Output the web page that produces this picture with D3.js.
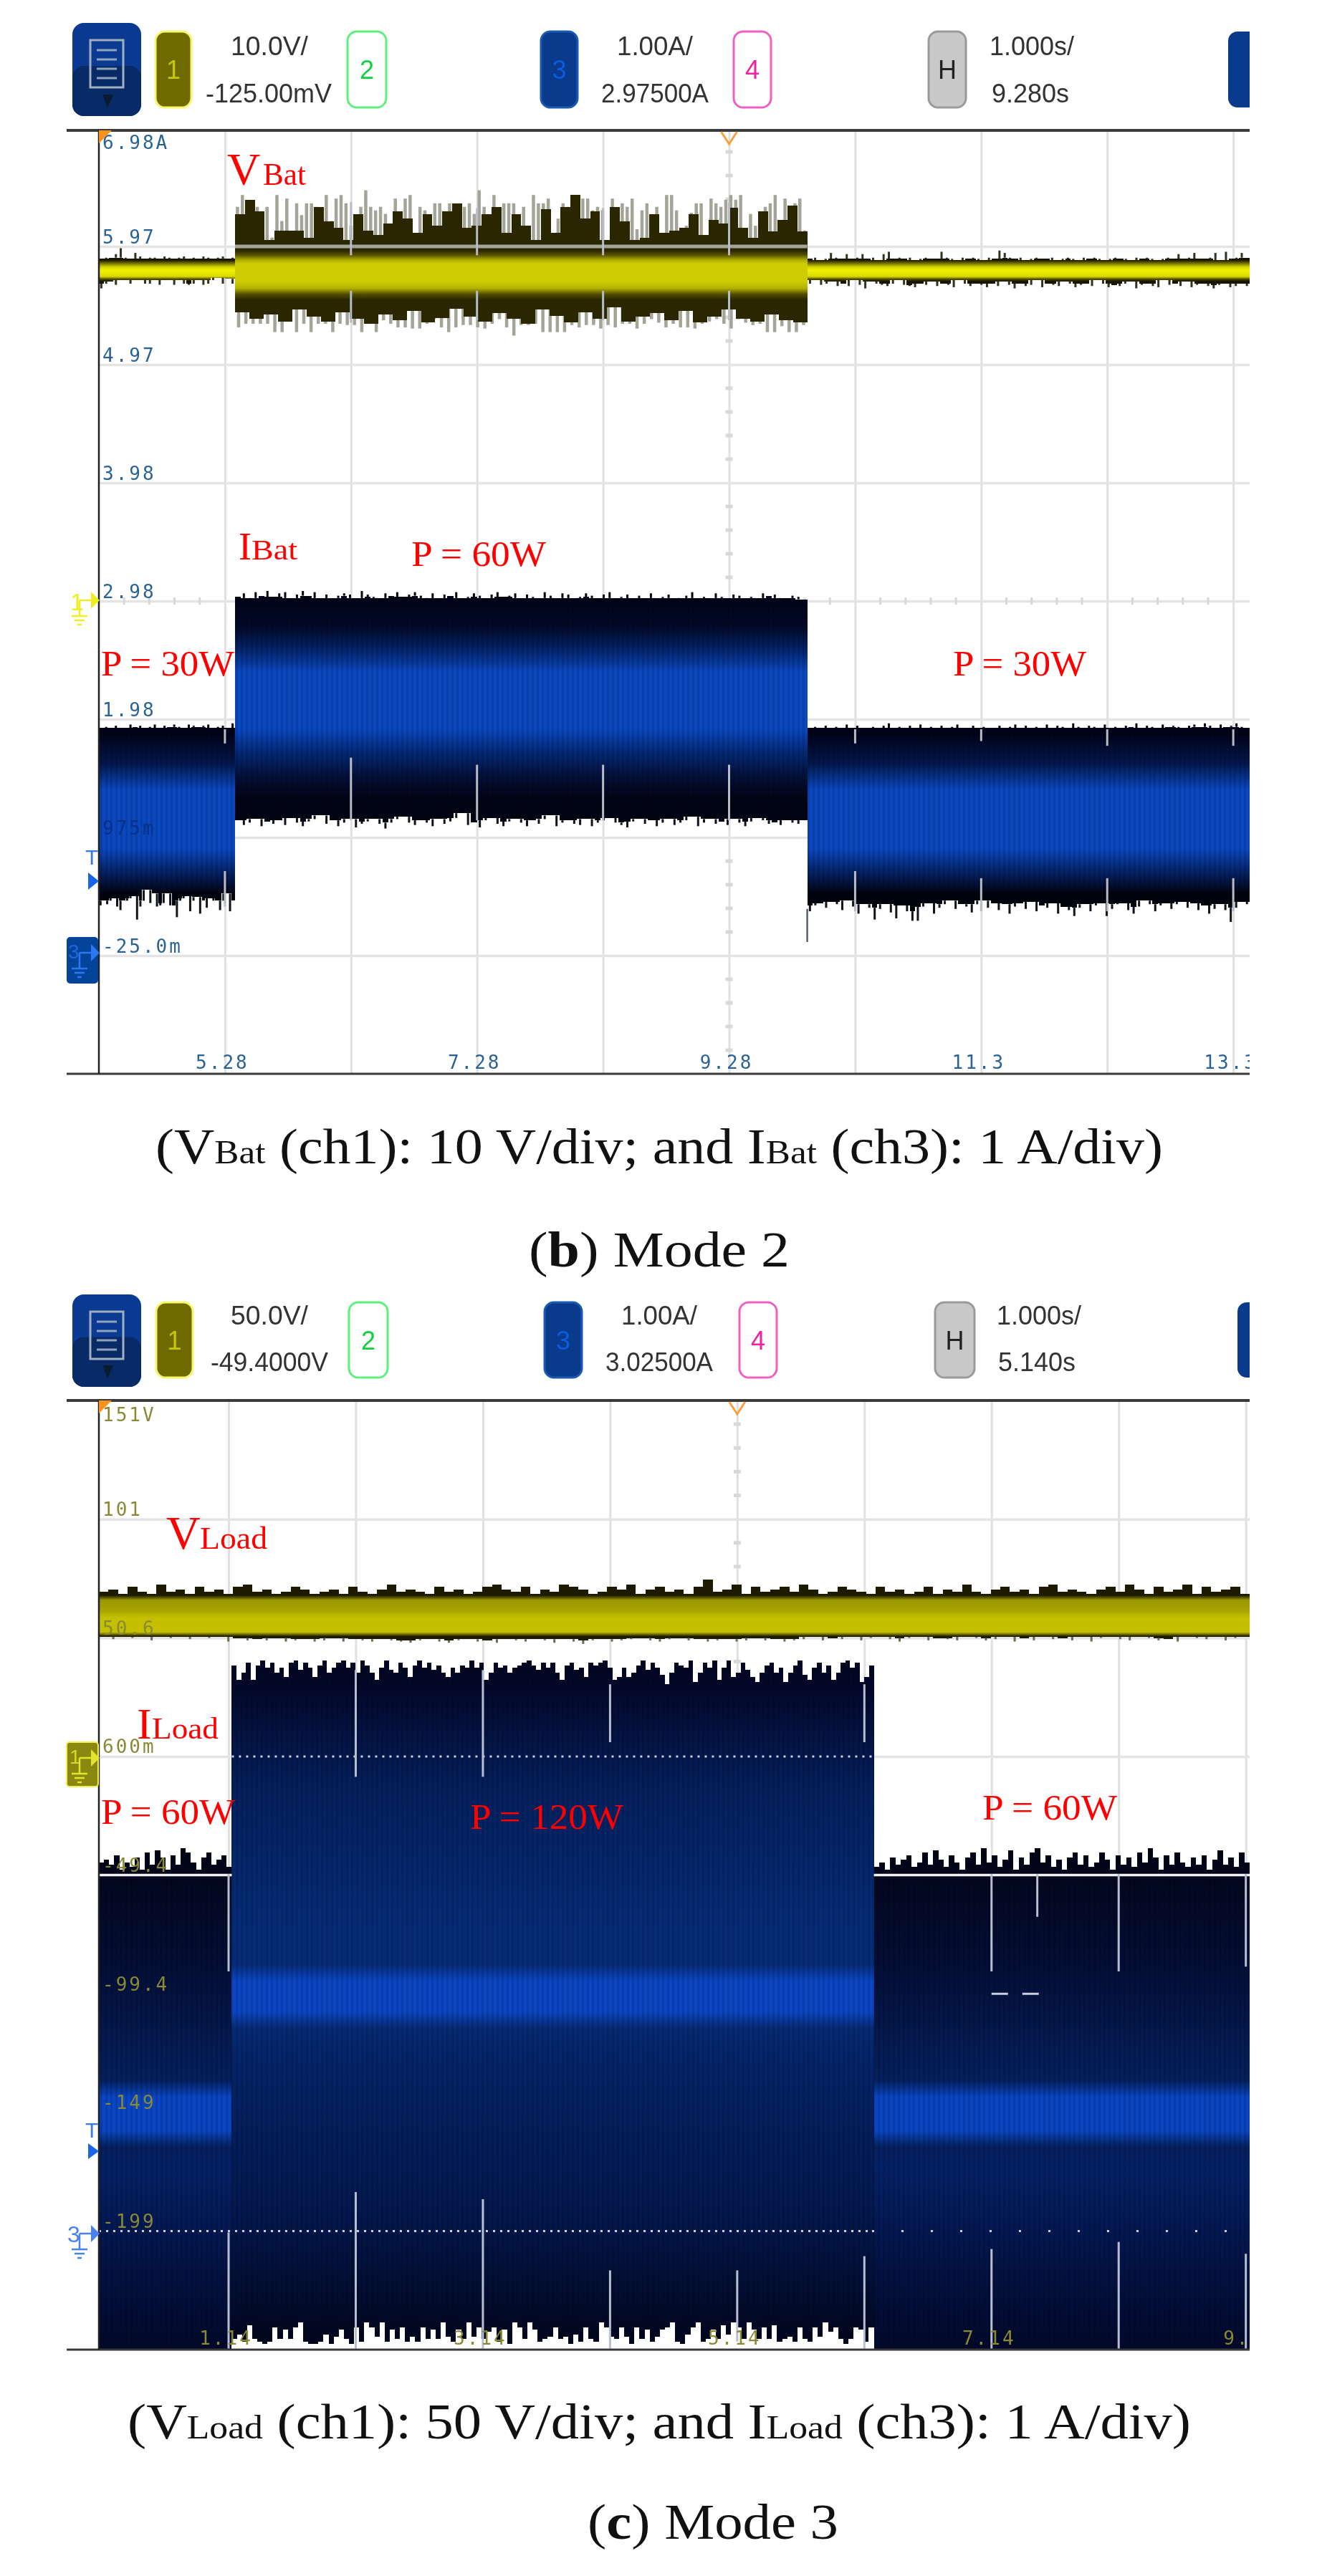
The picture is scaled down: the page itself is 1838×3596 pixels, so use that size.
<!DOCTYPE html>
<html>
<head>
<meta charset="utf-8">
<style>
  html, body { margin: 0; background: #fff; }
  svg { display: block; filter: blur(0.7px); }
</style>
</head>
<body>
<svg id="scope" width="1838" height="3596"></svg>
<script src="https://cdn.jsdelivr.net/npm/d3@7"></script>
<script>
// ---- data ----
// mode 2: time in s, voltage/current in the scope's own axis units
var batTimeTicks = [5.28, 7.28, 9.28, 11.28, 13.28];
var batTimeLabels = ["5.28", "7.28", "9.28", "11.3", "13.3"];
var batLevelTicks = [6.975, 5.975, 4.975, 3.975, 2.975, 1.975, 0.975, -0.025];
var batLevelLabels = ["6.98A", "5.97", "4.97", "3.98", "2.98", "1.98", "975m", "-25.0m"];
var batSteps = [5.36, 9.9];

var vBatHighPeakTop = [6.31,6.41,6.09,6.03,6.31,6.21,6.31,6.05,6.41,6.19,6.38,5.99,6.34,6.24,6.34,6.34,6.31,6.09,6.41,6.19,6.38,6.41,6.34,6.15,6.21,6.31,6.45,6.31,6.28,6.31,6.25,6.01,6.38,6.09,6.38,6.41,6.01,6.31,6.28,6.01,6.34,6.34,6.03,6.34,6.28,6.08,6.31,6.34,6.25,6.45,6.31,6.21,6.41,6.15,6.34,6.34,6.34,6.15,6.31,6.08,6.41,6.34,6.34,6.38,6.05,6.21,6.34,6.31,6.08,6.31,6.38,6.38,6.28,6.31,6.28,5.99,6.38,6.02,6.34,6.31,6.38,6.12,6.28,6.34,6.15,6.31,6.05,6.41,6.41,6.28,6.02,6.15,6.26,6.34,6.34,6.02,6.38,6.34,6.31,6.37,6.41,6.37,6.41,6.06,6.25,6.15,5.98,6.31,6.34,6.41,6.09,6.38,6.31,6.34,6.38,6.11];
var vBatHighCoreTop = [6.25,6.37,6.27,6.03,6.11,6.11,6.11,6.05,6.31,6.19,6.13,6.03,6.25,6.11,6.07,6.17,6.27,6.21,6.09,6.25,6.15,6.27,6.34,6.13,6.15,6.25,6.31,6.09,6.25,6.15,6.03,6.29,6.09,6.31,6.41,6.21,6.27,6.03,6.31,6.19,6.03,6.05,6.25,6.09,6.11,6.13,6.25,6.07,6.2,6.17,6.3,6.13,6.05,6.27,6.1,6.2,6.32,6.1];
var vBatHighPeakBot = [5.29,5.32,5.32,5.32,5.32,5.25,5.25,5.36,5.25,5.32,5.25,5.32,5.32,5.25,5.32,5.31,5.31,5.25,5.32,5.25,5.35,5.32,5.29,5.29,5.28,5.28,5.32,5.36,5.29,5.25,5.29,5.31,5.31,5.29,5.28,5.32,5.36,5.29,5.22,5.31,5.31,5.32,5.25,5.25,5.25,5.25,5.31,5.29,5.31,5.31,5.28,5.31,5.29,5.32,5.32,5.28,5.32,5.36,5.33,5.29,5.32,5.29,5.29,5.28,5.32,5.34,5.36,5.32,5.28,5.36,5.33,5.31,5.32,5.25,5.25,5.3,5.25,5.25,5.31];
var vBatHighCoreBot = [5.42,5.36,5.4,5.34,5.44,5.38,5.34,5.42,5.36,5.32,5.4,5.35,5.43,5.33,5.37,5.45,5.38,5.34,5.41,5.36,5.32,5.44,5.39,5.33,5.42,5.36,5.46,5.34,5.38,5.41,5.35,5.43,5.33,5.38,5.44,5.36,5.34,5.4,5.35,5.33];
var vBatLowBeforeTop = [5.87,5.88,5.88,5.91,5.96,5.88,5.87,5.92,5.89,5.87,5.88,5.88,5.87,5.89,5.88,5.87,5.88,5.89,5.87,5.88,5.87,5.89,5.88,5.87,5.88,5.89,5.87,5.88];
var vBatLowBeforeBot = [5.62,5.66,5.68,5.65,5.69,5.69,5.66,5.69,5.69,5.66,5.66,5.69,5.65,5.69,5.69,5.65,5.69,5.66,5.65,5.66,5.69,5.65,5.66,5.69,5.71,5.66,5.7,5.66];
var vBatLowAfterTop = [5.87,5.88,5.86,5.87,5.92,5.88,5.87,5.91,5.87,5.88,5.91,5.87,5.88,5.86,5.91,5.93,5.87,5.88,5.87,5.88,5.86,5.87,5.88,5.87,5.87,5.93,5.88,5.87,5.86,5.88,5.87,5.88,5.87,5.86,5.88,5.87,5.94,5.92,5.88,5.87,5.88,5.86,5.87,5.88,5.87,5.87,5.88,5.86,5.87,5.88,5.87,5.86,5.88,5.87,5.88,5.87,5.86,5.87,5.88,5.87,5.87,5.86,5.88,5.87,5.88,5.87,5.86,5.87,5.88,5.87,5.91,5.87,5.88,5.92,5.87,5.87,5.88,5.92,5.86,5.93,5.87,5.88,5.92,5.88];
var vBatLowAfterBot = [5.66,5.69,5.65,5.66,5.68,5.64,5.66,5.64,5.69,5.65,5.62,5.68,5.66,5.65,5.64,5.66,5.69,5.65,5.64,5.63,5.66,5.65,5.68,5.64,5.66,5.65,5.63,5.69,5.66,5.64,5.66,5.65,5.63,5.66,5.64,5.68,5.65,5.62,5.66,5.64,5.65,5.69,5.63,5.66,5.65,5.64,5.68,5.66,5.63,5.65,5.66,5.64,5.69,5.66,5.63,5.65,5.64,5.66,5.68,5.62,5.65,5.66,5.64,5.63,5.69,5.65,5.66,5.64,5.68,5.63,5.65,5.66,5.64,5.62,5.65,5.66,5.63,5.64,5.66,5.64];

var iBatHighTop = [3.01,3.04,3.0,3.05,3.02,3.06,3.01,3.04,3.05,3.0,3.03,3.06,3.02,3.05,3.0,3.03,3.0,3.02,3.04,3.03,3.0,3.06,3.03,3.01,3.0,3.04,3.02,3.05,3.01,3.03,3.05,3.02,3.0,3.04,3.0,3.03,3.02,3.05,3.0,3.01,3.04,3.02,3.0,3.03,3.05,3.01,3.02,3.04,3.0,3.03,3.01,3.0,3.05,3.02,3.0,3.04,3.03,3.0,3.01,3.04,3.02,3.0,3.03,3.05,3.0,3.01,3.03,3.0,3.02,3.0,3.04,3.0,3.01,3.03,3.0,3.0,3.02,3.05,3.0,3.01,3.0,3.04,3.01,3.0,3.03,3.02,3.0,3.01,3.0,3.04,3.02,3.03,3.0,3.0,3.02,3.01,2.99];
var iBatHighBot = [1.12,1.08,1.1,1.13,1.07,1.11,1.09,1.12,1.08,1.14,1.1,1.07,1.11,1.13,1.16,1.09,1.12,1.07,1.1,1.13,1.06,1.09,1.11,1.13,1.09,1.05,1.1,1.13,1.15,1.1,1.08,1.12,1.1,1.07,1.13,1.09,1.11,1.14,1.18,1.08,1.1,1.06,1.12,1.14,1.09,1.07,1.11,1.13,1.1,1.07,1.12,1.09,1.13,1.16,1.07,1.1,1.12,1.09,1.08,1.13,1.07,1.1,1.12,1.14,1.1,1.08,1.06,1.11,1.13,1.09,1.12,1.07,1.1,1.13,1.08,1.1,1.12,1.15,1.07,1.1,1.13,1.09,1.11,1.08,1.13,1.1,1.07,1.11,1.14,1.12,1.09,1.1,1.08,1.12,1.1,1.09,1.12];
var iBatLowBeforeTop = [1.9,1.91,1.9,1.92,1.9,1.9,1.93,1.91,1.92,1.9,1.91,1.93,1.9,1.92,1.91,1.93,1.91,1.9,1.93,1.92,1.91,1.92,1.93,1.9,1.91,1.92,1.9,1.94];
var iBatLowBeforeBot = [0.4,0.44,0.41,0.44,0.46,0.39,0.36,0.44,0.44,0.46,0.48,0.28,0.39,0.44,0.53,0.42,0.5,0.39,0.4,0.42,0.5,0.4,0.4,0.3,0.44,0.46,0.48,0.35,0.44,0.47,0.33,0.44,0.38,0.46,0.44,0.44,0.36,0.44,0.5,0.35,0.44];
var iBatLowAfterTop = [1.9,1.91,1.9,1.92,1.9,1.91,1.9,1.93,1.9,1.92,1.9,1.9,1.91,1.9,1.92,1.94,1.9,1.91,1.9,1.92,1.9,1.93,1.9,1.91,1.9,1.92,1.9,1.91,1.93,1.9,1.9,1.92,1.9,1.91,1.9,1.9,1.92,1.9,1.91,1.93,1.9,1.92,1.9,1.91,1.9,1.93,1.9,1.92,1.91,1.9,1.94,1.91,1.9,1.92,1.91,1.9,1.93,1.9,1.91,1.9,1.92,1.91,1.94,1.9,1.92,1.91,1.9,1.93,1.91,1.92,1.91,1.9,1.92,1.93,1.91,1.94,1.92,1.9,1.93,1.91,1.92,1.94,1.91,1.9];
var iBatLowAfterBot = [0.35,0.4,0.42,0.38,0.43,0.41,0.36,0.44,0.39,0.33,0.41,0.38,0.28,0.37,0.41,0.34,0.29,0.4,0.35,0.27,0.27,0.39,0.42,0.33,0.38,0.41,0.44,0.37,0.41,0.39,0.34,0.41,0.44,0.38,0.42,0.36,0.41,0.33,0.39,0.42,0.37,0.43,0.35,0.4,0.38,0.42,0.33,0.39,0.36,0.31,0.38,0.41,0.35,0.4,0.42,0.31,0.37,0.41,0.42,0.36,0.33,0.39,0.44,0.41,0.35,0.4,0.42,0.37,0.41,0.43,0.38,0.42,0.36,0.4,0.33,0.37,0.41,0.36,0.26,0.38,0.43,0.41];
// where the grid line stays visible through a trace: [time, from, to]
var batGridPeeks = [
  [6.28,6.35,5.9],[7.28,6.3,5.9],[8.28,6.3,5.9],[9.28,6.35,5.9],
  [6.28,5.6,5.33],[7.28,5.6,5.35],[8.28,5.6,5.35],[9.28,5.6,5.35],
  [6.28,1.65,1.12],[7.28,1.59,1.12],[8.28,1.59,1.12],[9.28,1.59,1.12],
  [5.28,1.89,1.77],[5.28,0.69,0.39],
  [10.28,1.89,1.77],[10.28,0.69,0.35],[11.28,1.89,1.79],[11.28,0.63,0.35],
  [12.28,1.89,1.75],[12.28,0.63,0.35],[13.28,1.89,1.75],[13.28,0.63,0.35]
];

// mode 3
var loadTimeTicks = [1.14, 3.14, 5.14, 7.14, 9.14];
var loadTimeLabels = ["1.14", "3.14", "5.14", "7.14", "9.1"];
var loadLevelTicks = [150.6, 100.6, 50.6, 0.6, -49.4, -99.4, -149.4, -199.4];
var loadLevelLabels = ["151V", "101", "50.6", "600m", "-49.4", "-99.4", "-149", "-199"];
var loadSteps = [1.165, 6.215];

var vLoadTop = [70,71,69,72,70,69,73,70,71,69,72,70,71,69,72,73,70,71,69,70,72,71,69,70,71,69,72,70,69,71,73,70,71,70,69,72,70,71,69,70,72,73,71,70,72,69,71,70,73,72,71,69,70,72,71,73,69,71,72,70,71,69,72,75,70,71,73,69,72,70,71,72,70,73,71,69,70,72,71,70,69,72,70,71,69,70,72,69,71,70,73,70,69,71,72,70,71,69,72,73,70,71,70,69,71,72,70,73,71,69,72,70,71,73,69,72,70,71,72,69];
var vLoadBot = [51,50,51,50.5,51,49.5,51,50.5,51,50,51,50.5,51,49,50.5,49.5,50,49.5,50.5,49,49.5,50,49,49.5,50.5,49,50,49.5,49,50,49.5,49,48.5,49.5,50,49,48.5,49.5,50,49,49.5,48.5,50,49.5,49,50,49.5,48.5,50,49,48,49.5,50,49,49.5,50,50.5,49.5,49,50,50.5,49.5,50,49,49.5,50,49,49.5,50.5,49.5,50,49,49.5,50,51,49.5,50.5,50,51,49.5,50.5,51,50,49,50.5,51,49.5,50.5,50,49.5,51,50.5,49.5,50,51,49,50.5,49.5,51,50,50.5,49.5,51,49,50.5,51,50,49.5,51,50.5,49.5,50,49,51,50.5,50,51,49.5,50.5,51];
var iLoadHighTop = [39,33,36,40,33,39,41,38,40,36,38,34,40,41,37,40,38,34,39,41,36,38,40,41,38,40,36,41,39,36,33,38,41,37,36,40,38,34,39,41,38,40,37,39,36,34,38,36,39,38,41,38,40,33,36,40,38,39,36,38,39,40,41,39,37,40,38,40,36,33,39,40,37,38,34,40,39,40,41,38,33,34,38,34,36,39,41,37,40,38,35,31,36,40,39,38,41,32,36,40,38,41,33,38,41,34,36,40,37,34,32,36,39,40,36,38,32,36,39,41,35,33,38,40,36,39,33,36,40,41,38,40,32,34,39];
var iLoadLowBeforeTop = [-44,-43,-45,-41,-47,-44,-46,-42,-47,-40,-45,-39,-42,-47,-41,-45,-38,-40,-44,-47,-42,-40,-45,-43,-41,-46];
var iLoadLowAfterTop = [-46,-44,-47,-42,-45,-43,-41,-46,-44,-40,-45,-39,-43,-46,-41,-44,-47,-42,-40,-45,-38,-44,-41,-46,-43,-39,-47,-42,-45,-40,-38,-44,-41,-46,-43,-47,-42,-40,-45,-41,-46,-44,-40,-43,-47,-41,-45,-42,-46,-40,-44,-38,-42,-47,-41,-45,-40,-44,-46,-42,-45,-41,-47,-43,-39,-45,-42,-46,-40,-44];
var iLoadHighFloor = [-245,-243,-246,-239,-245,-246,-247,-246,-240,-245,-241,-245,-240,-238,-246,-247,-247,-246,-243,-247,-244,-241,-245,-247,-240,-246,-238,-240,-244,-238,-246,-241,-245,-240,-246,-244,-246,-240,-245,-241,-245,-238,-244,-246,-241,-245,-238,-244,-240,-245,-242,-240,-246,-241,-247,-238,-240,-245,-238,-241,-246,-245,-244,-240,-245,-244,-247,-243,-246,-240,-245,-246,-238,-240,-244,-245,-240,-244,-247,-240,-245,-241,-246,-244,-241,-240,-238,-246,-247,-243,-240,-238,-246,-245,-241,-245,-239,-243,-238,-240,-245,-238,-241,-245,-240,-245,-239,-246,-245,-244,-246,-240,-245,-246,-240,-244,-238,-242,-240,-245,-247,-245,-240,-241,-246,-240];
var loadGridPeeks = [
  [2.14,37,-8],[3.14,37,-8],[4.14,31,6.6],[6.14,31,6.6],
  [2.14,-183,-249],[3.14,-186,-249],[4.14,-216,-249],[6.14,-210,-249],[5.14,-216,-246],
  [1.14,-49,-90],[7.14,-49,-90],[8.14,-49,-90],[9.14,-49,-88],[7.5,-49,-67],
  [1.14,-200,-249],[7.14,-207,-249],[8.14,-204,-249],[9.14,-209,-249]
];

// ---- page set up ----
var svg = d3.select("#scope");
var defs = svg.append("defs");
svg.append("rect").attr("width", 1838).attr("height", 3596).attr("fill", "#fff");

defs.append("pattern").attr("id", "stripes").attr("patternUnits", "userSpaceOnUse")
    .attr("width", 7).attr("height", 10)
  .append("rect").attr("width", 3).attr("height", 10).attr("fill", "#000").attr("opacity", 0.13);

function vGrad(id, y, stops) {
  var y0 = y(stops[0][0]), y1 = y(stops[stops.length - 1][0]);
  var lg = defs.append("linearGradient").attr("id", id)
      .attr("gradientUnits", "userSpaceOnUse")
      .attr("x1", 0).attr("x2", 0).attr("y1", y0).attr("y2", y1);
  stops.forEach(function(s) {
    lg.append("stop").attr("offset", (y(s[0]) - y0) / (y1 - y0)).attr("stop-color", s[1]);
  });
}

// one filled strip of scope trace, from an edge array to a base level.
// with spiky set, the body only reaches the lowest of three neighbours and the rest is drawn as needles
function band(g, x, y, t0, t1, values, base, fill, stripes, spiky) {
  var t = d3.scaleLinear().domain([0, values.length]).range([t0, t1]);
  var inner = !spiky ? values : values.map(function(v, i) {
    var near = values.slice(Math.max(i - 1, 0), i + 2);
    return d3.least(near, function(d) { return Math.abs(d - base); });
  });
  var rows = inner.concat([inner[inner.length - 1]]);
  var area = d3.area()
      .curve(d3.curveStepAfter)
      .x(function(d, i) { return x(t(i)); })
      .y0(y(base))
      .y1(function(d) { return y(d); });
  g.append("path").datum(rows).attr("fill", fill).attr("shape-rendering", "crispEdges").attr("d", area);
  if (stripes) g.append("path").datum(rows).attr("fill", "url(#stripes)").attr("shape-rendering", "crispEdges").attr("d", area);
  if (spiky) {
    g.append("g").selectAll("line").data(values).join("line")
        .attr("x1", function(d, i) { return x(t(i + 0.5)); })
        .attr("x2", function(d, i) { return x(t(i + 0.5)); })
        .attr("y1", function(d) { return y(d); })
        .attr("y2", function(d, i) { return y(inner[i]); })
        .attr("stroke", spiky).attr("stroke-width", 3);
  }
}

function needles(g, x, y, t0, t1, values, base, color) {
  var t = d3.scaleLinear().domain([0, values.length]).range([t0, t1]);
  g.append("g").selectAll("line").data(values).join("line")
      .attr("x1", function(d, i) { return x(t(i + 0.5)); })
      .attr("x2", function(d, i) { return x(t(i + 0.5)); })
      .attr("y1", function(d) { return y(d); })
      .attr("y2", y(base))
      .attr("stroke", color).attr("stroke-width", 4.5);
}

function label(parent, str, px, py, size, width, fill, family, weight) {
  var t = parent.append("text")
      .attr("x", px).attr("y", py)
      .attr("font-family", family || "'Liberation Serif'")
      .attr("font-size", size)
      .attr("fill", fill || "#f00")
      .text(str);
  if (width) t.attr("textLength", width).attr("lengthAdjust", "spacingAndGlyphs");
  if (weight) t.attr("font-weight", weight);
  return t;
}

function button(g, x0, x1, y0, y1, fill, stroke, str, color) {
  g.append("rect").attr("x", x0).attr("y", y0).attr("width", x1 - x0).attr("height", y1 - y0)
      .attr("rx", 13).attr("fill", fill).attr("stroke", stroke).attr("stroke-width", 3);
  if (str) label(g, str, (x0 + x1) / 2, (y0 + y1) / 2 + 13, 36, null, color, "'Liberation Sans'")
      .attr("text-anchor", "middle");
}

function header(h) {
  var g = svg.append("g");
  // menu button
  g.append("rect").attr("x", 101).attr("y", h.menu[0]).attr("width", 96).attr("height", h.menu[1] - h.menu[0])
      .attr("rx", 16).attr("fill", "#0a3a92");
  g.append("rect").attr("x", 101).attr("y", (h.menu[0] + h.menu[1]) / 2 - 5).attr("width", 96).attr("height", (h.menu[1] - h.menu[0]) / 2 + 5)
      .attr("rx", 16).attr("fill", "#082a66");
  g.append("rect").attr("x", 126).attr("y", h.menu[0] + 24).attr("width", 46).attr("height", 66)
      .attr("fill", "none").attr("stroke", "#9fb0c0").attr("stroke-width", 3);
  [0, 1, 2, 3].forEach(function(i) {
    g.append("line").attr("x1", 135).attr("x2", 163).attr("y1", h.menu[0] + 38 + i * 13).attr("y2", h.menu[0] + 38 + i * 13)
        .attr("stroke", "#8fa4b8").attr("stroke-width", 3);
  });
  g.append("path").attr("fill", "#0a1a30")
      .attr("d", d3.line()([[143, h.menu[1] - 30], [158, h.menu[1] - 30], [150, h.menu[1] - 12]]));

  button(g, h.ch1[0], h.ch1[1], h.row[0], h.row[1], "#6e6a00", "#f6f66a", "1", "#c8c800");
  button(g, h.ch2[0], h.ch2[1], h.row[0], h.row[1], "#fff", "#5cf07c", "2", "#10d040");
  button(g, h.ch3[0], h.ch3[1], h.row[0], h.row[1], "#0a3a8c", "#1a5ab0", "3", "#0a5ce0");
  button(g, h.ch4[0], h.ch4[1], h.row[0], h.row[1], "#fff", "#f060c0", "4", "#f020a0");
  button(g, h.hor[0], h.hor[1], h.row[0], h.row[1], "#c8c8c8", "#9a9a9a", "H", "#222");
  g.append("rect").attr("x", h.trig).attr("y", h.row[0]).attr("width", 60).attr("height", h.row[1] - h.row[0])
      .attr("rx", 13).attr("fill", "#0a3a8c");
  g.append("rect").attr("x", 1744).attr("y", h.row[0] - 2).attr("width", 60).attr("height", h.row[1] - h.row[0] + 4)
      .attr("fill", "#fff");

  h.texts.forEach(function(d) {
    label(g, d[0], d[1], d[2], 36, d[3], "#333", "'Liberation Sans'").attr("text-anchor", "middle");
  });
}

function groundMark(g, cx, cy, color) {
  g.append("path").attr("fill", "none").attr("stroke", color).attr("stroke-width", 2.5)
      .attr("d", "M" + (cx - 3) + "," + cy + "H" + (cx + 14) + "M" + (cx - 3) + "," + cy + "V" + (cy + 22)
        + "M" + (cx - 14) + "," + (cy + 22) + "H" + (cx + 8) + "M" + (cx - 10) + "," + (cy + 28) + "H" + (cx + 4)
        + "M" + (cx - 6) + "," + (cy + 34) + "H" + cx);
  g.append("path").attr("fill", color)
      .attr("d", "M" + (cx + 13) + "," + (cy - 12) + "L" + (cx + 25) + "," + cy + "L" + (cx + 13) + "," + (cy + 12) + "Z");
}

// frame, grid and the parts common to both scope screens; returns the scales and layers
function screen(p) {
  var x = d3.scaleLinear().domain(p.timeDomain).range([p.left, p.right]);
  var y = d3.scaleLinear().domain(p.levelDomain).range([p.top, p.bottom]);
  var clip = "clip" + p.name;
  defs.append("clipPath").attr("id", clip).append("rect")
      .attr("x", p.left).attr("y", p.frameTop).attr("width", p.right - p.left).attr("height", p.bottom - p.frameTop);

  var holder = svg.append("g").attr("clip-path", "url(#" + clip + ")");
  var step = p.timeTicks[1] - p.timeTicks[0];

  holder.append("g").attr("class", "grid")
      .attr("transform", "translate(0," + p.bottom + ")")
      .call(d3.axisBottom(x).tickValues(d3.range(p.timeTicks[0], p.timeDomain[1], step / 2))
        .tickSize(p.frameTop - p.bottom).tickFormat(""))
      .call(function(a) { a.select(".domain").remove(); })
      .selectAll("line").attr("stroke", "#e0e0e0").attr("stroke-width", 3);
  holder.append("g").attr("class", "grid")
      .attr("transform", "translate(" + p.left + ",0)")
      .call(d3.axisRight(y).tickValues(p.levelTicks.slice(1))
        .tickSize(p.right - p.left).tickFormat(""))
      .call(function(a) { a.select(".domain").remove(); })
      .selectAll("line").attr("stroke", "#e4e4e4").attr("stroke-width", 3.5);

  // minor ticks along the centre lines
  var centreT = p.timeTicks[2], centreV = p.levelTicks[4];
  var minorV = p.levelTicks[0] - p.levelTicks[1], minorT = step / 2 / 5;
  holder.append("g").selectAll("line").data(d3.range(1, 40).filter(function(i) { return i % 5; }))
    .join("line")
      .attr("x1", x(centreT) - 5).attr("x2", x(centreT) + 5)
      .attr("y1", function(i) { return y(p.levelTicks[0] - i * minorV / 5); })
      .attr("y2", function(i) { return y(p.levelTicks[0] - i * minorV / 5); })
      .attr("stroke", "#d8d8d8").attr("stroke-width", 5);
  holder.append("g").selectAll("line").data(d3.range(1, 46).filter(function(i) { return i % 5; }))
    .join("line")
      .attr("y1", y(centreV) - 5).attr("y2", y(centreV) + 5)
      .attr("x1", function(i) { return x(p.timeDomain[0] + i * minorT); })
      .attr("x2", function(i) { return x(p.timeDomain[0] + i * minorT); })
      .attr("stroke", "#d8d8d8").attr("stroke-width", 3);

  var traces = holder.append("g");
  var over = holder.append("g");
  return {x: x, y: y, traces: traces, over: over, holder: holder};
}

function finishScreen(s, p) {
  // tick labels sit over the traces
  var yAxis = s.holder.append("g")
      .attr("transform", "translate(" + p.left + ",0)")
      .call(d3.axisRight(s.y).tickValues(p.levelTicks).tickSize(0).tickPadding(5)
        .tickFormat(function(d, i) { return p.levelLabels[i]; }));
  yAxis.select(".domain").remove();
  yAxis.selectAll("text")
      .attr("font-family", "'DejaVu Sans Mono'").attr("font-size", 26).attr("letter-spacing", 3)
      .attr("fill", function(d, i) { return p.labelColor(i); })
      .attr("dy", function(d, i) { return i ? -5 : 28; });

  var xAxis = s.holder.append("g")
      .attr("transform", "translate(0," + p.bottom + ")")
      .call(d3.axisBottom(s.x).tickValues(p.timeTicks).tickSize(0).tickPadding(0)
        .tickFormat(function(d, i) { return p.timeLabels[i]; }));
  xAxis.select(".domain").remove();
  xAxis.selectAll("text")
      .attr("font-family", "'DejaVu Sans Mono'").attr("font-size", 26).attr("letter-spacing", 3)
      .attr("fill", p.timeColor).attr("dx", -4).attr("y", 0).attr("dy", -7);

  // frame
  var frame = svg.append("g").attr("stroke", "#3a3a3a");
  frame.append("line").attr("x1", 93).attr("x2", p.right).attr("y1", p.frameTop).attr("y2", p.frameTop).attr("stroke-width", 4);
  frame.append("line").attr("x1", 93).attr("x2", p.right).attr("y1", p.bottom).attr("y2", p.bottom).attr("stroke-width", 3);
  frame.append("line").attr("x1", p.left).attr("x2", p.left).attr("y1", p.frameTop).attr("y2", p.bottom).attr("stroke-width", 2.5).attr("stroke", "#222");

  var mid = s.x(p.timeTicks[2]);
  svg.append("path").attr("fill", "#f7921e")
      .attr("d", d3.line()([[p.left, p.frameTop], [p.left + 18, p.frameTop], [p.left, p.frameTop + 18]]));
  svg.append("path").attr("fill", "none").attr("stroke", "#f7a040").attr("stroke-width", 3)
      .attr("d", d3.line()([[mid - 11, p.frameTop + 2], [mid, p.frameTop + 19], [mid + 11, p.frameTop + 2]]));
}

function peeks(s, rows, color) {
  s.over.selectAll("line.peek").data(rows).join("line").attr("class", "peek")
      .attr("x1", function(d) { return s.x(d[0]); })
      .attr("x2", function(d) { return s.x(d[0]); })
      .attr("y1", function(d) { return s.y(d[1]); })
      .attr("y2", function(d) { return s.y(d[2]); })
      .attr("stroke", color).attr("stroke-width", 3);
}

function caption(parent, px, py, width, pieces) {
  var t = parent.append("text")
      .attr("x", px).attr("y", py)
      .attr("font-family", "'Liberation Serif'").attr("font-size", 70).attr("fill", "#111")
      .attr("textLength", width).attr("lengthAdjust", "spacingAndGlyphs");
  pieces.forEach(function(p) {
    var span = t.append("tspan").text(p[0]);
    if (p[1] === "small") span.attr("font-size", 46);
    if (p[1] === "bold") span.attr("font-weight", "bold");
  });
}

function redLabel(sub, base, px, py, bx, bw, sizeA, sizeB) {
  label(svg, sub, px, py, sizeA);
  label(svg, base, bx, py, sizeB, bw);
}

// ---- mode 2 ----
header({
  menu: [32, 162], row: [44, 150],
  ch1: [217, 267], ch2: [485, 539], ch3: [755, 806], ch4: [1024, 1076], hor: [1296, 1348], trig: 1714,
  texts: [["10.0V/", 376, 77, 108], ["-125.00mV", 375, 143, 176], ["1.00A/", 914, 77, 106], ["2.97500A", 914, 143, 150],
          ["1.000s/", 1440, 77, 118], ["9.280s", 1438, 143, 108]]
});

var p1 = {
  name: "bat", left: 138, right: 1744, top: 179, bottom: 1499, frameTop: 182,
  timeDomain: [4.28, 13.41], levelDomain: [6.975, -1.025],
  timeTicks: batTimeTicks, timeLabels: batTimeLabels,
  levelTicks: batLevelTicks, levelLabels: batLevelLabels,
  labelColor: function(i) { return i === 6 ? "#06308a" : "#2a6294"; }, timeColor: "#2a6294"
};
var s1 = screen(p1);
var t1 = s1.traces, x1 = s1.x, y1 = s1.y;

vGrad("vBatHigh", y1, [[6.5,"#2a2600"],[5.94,"#2a2600"],[5.9,"#5a5600"],[5.86,"#b0ac00"],[5.83,"#cccc00"],[5.68,"#cccc00"],[5.62,"#b4b000"],[5.57,"#504c00"],[5.52,"#2a2600"],[5.2,"#2a2600"]]);
vGrad("vBatLow", y1, [[6,"#181400"],[5.86,"#181400"],[5.83,"#7a7600"],[5.8,"#d8d800"],[5.77,"#f2f200"],[5.72,"#d8d800"],[5.7,"#5a5600"],[5.68,"#181400"],[5.6,"#181400"]]);
vGrad("iBatHigh", y1, [[3.1,"#01020f"],[2.75,"#020a2a"],[2.55,"#05266f"],[2.38,"#0a48c0"],[1.89,"#0a48c0"],[1.7,"#052a78"],[1.5,"#02103a"],[1.3,"#010414"],[1.0,"#010414"]]);
vGrad("iBatLow", y1, [[2,"#01020f"],[1.85,"#01041a"],[1.6,"#03174c"],[1.38,"#0a48c0"],[0.88,"#0a48c0"],[0.7,"#05256e"],[0.5,"#01030f"],[0.2,"#000"]]);

var tA = batSteps[0], tB = batSteps[1], t0 = p1.timeDomain[0], tE = p1.timeDomain[1];

band(t1, x1, y1, tA, tB, iBatHighTop, 2.0, "url(#iBatHigh)", true, "#02030c");
band(t1, x1, y1, tA, tB, iBatHighBot, 2.0, "url(#iBatHigh)", true, "#10121a");
band(t1, x1, y1, t0, tA, iBatLowBeforeTop, 1.1, "url(#iBatLow)", true, "#02030c");
band(t1, x1, y1, t0, tA, iBatLowBeforeBot, 1.1, "url(#iBatLow)", true, "#12141c");
band(t1, x1, y1, tB, tE, iBatLowAfterTop, 1.1, "url(#iBatLow)", true, "#02030c");
band(t1, x1, y1, tB, tE, iBatLowAfterBot, 1.1, "url(#iBatLow)", true, "#12141c");

// battery voltage: pale needles, then the dark body
needles(t1, x1, y1, tA, tB, vBatHighPeakTop, 5.77, "#a4a498");
needles(t1, x1, y1, tA, tB, vBatHighPeakBot, 5.77, "#a4a498");
band(t1, x1, y1, tA, tB, vBatHighCoreTop, 5.77, "url(#vBatHigh)", false);
band(t1, x1, y1, tA, tB, vBatHighCoreBot, 5.77, "url(#vBatHigh)", false);
band(t1, x1, y1, t0, tA, vBatLowBeforeTop, 5.77, "url(#vBatLow)", false, "#33321f");
band(t1, x1, y1, t0, tA, vBatLowBeforeBot, 5.77, "url(#vBatLow)", false, "#33321f");
band(t1, x1, y1, tB, tE, vBatLowAfterTop, 5.77, "url(#vBatLow)", false, "#33321f");
band(t1, x1, y1, tB, tE, vBatLowAfterBot, 5.77, "url(#vBatLow)", false, "#33321f");

// the graticule line shows pale across the body of the voltage burst
s1.over.append("line").attr("x1", x1(tA)).attr("x2", x1(tB)).attr("y1", y1(5.975)).attr("y2", y1(5.975))
    .attr("stroke", "#a4a498").attr("stroke-width", 5);
s1.over.append("line").attr("x1", x1(tB)).attr("x2", x1(tB)).attr("y1", y1(0.37)).attr("y2", y1(0.09))
    .attr("stroke", "#55606e").attr("stroke-width", 2.5);
peeks(s1, batGridPeeks, "#b8bcc4");
finishScreen(s1, p1);

redLabel("V", "Bat", 317, 258, 367, 60, 64, 44);
redLabel("I", "Bat", 333, 781, 351, 64, 54, 40);
label(svg, "P = 60W", 574, 790, 50, 188);
label(svg, "P = 30W", 141, 943, 50, 186);
label(svg, "P = 30W", 1330, 943, 50, 186);

var side1 = svg.append("g");
label(side1, "1", 98, 852, 34, null, "#eeee20", "'Liberation Sans'");
groundMark(side1, 114, 838, "#eeee20");
label(side1, "T", 119, 1207, 30, null, "#3a78e8", "'Liberation Sans'");
side1.append("path").attr("fill", "#1a64e8").attr("d", d3.line()([[123, 1218], [138, 1230], [123, 1242]]));
side1.append("rect").attr("x", 93).attr("y", 1308).attr("width", 44).attr("height", 65).attr("rx", 5).attr("fill", "#04439a");
label(side1, "3", 95, 1338, 28, null, "#1f66d8", "'Liberation Sans'");
groundMark(side1, 114, 1330, "#2a78f0");

caption(svg, 217, 1624, 1406, [["(V"], ["Bat", "small"], [" (ch1): 10 V/div; and I"], ["Bat", "small"], [" (ch3): 1 A/div)"]]);
caption(svg, 738, 1768, 364, [["("], ["b", "bold"], [") Mode 2"]]);

// ---- mode 3 ----
header({
  menu: [1807, 1936], row: [1818, 1923],
  ch1: [218, 269], ch2: [487, 541], ch3: [760, 812], ch4: [1032, 1084], hor: [1305, 1360], trig: 1727,
  texts: [["50.0V/", 376, 1849, 108], ["-49.4000V", 376, 1914, 164], ["1.00A/", 920, 1849, 106], ["3.02500A", 920, 1914, 150],
          ["1.000s/", 1450, 1849, 118], ["5.140s", 1447, 1914, 108]]
});

var p2 = {
  name: "load", left: 138, right: 1744, top: 1955, bottom: 3280, frameTop: 1955,
  timeDomain: [0.12, 9.17], levelDomain: [150.6, -249.4],
  timeTicks: loadTimeTicks, timeLabels: loadTimeLabels,
  levelTicks: loadLevelTicks, levelLabels: loadLevelLabels,
  labelColor: function() { return "#8a8a36"; }, timeColor: "#8a8a36"
};
var s2 = screen(p2);
var t2 = s2.traces, x2 = s2.x, y2 = s2.y;

vGrad("vLoad", y2, [[76,"#1c1a00"],[68.5,"#1c1a00"],[66.5,"#9a9600"],[62,"#a8a400"],[59,"#c4c000"],[53,"#c4c000"],[52,"#6a6600"],[51.2,"#1c1a00"],[46,"#1c1a00"]]);
vGrad("iLoadHigh", y2, [[45,"#02051c"],[30,"#03082a"],[-14,"#05205e"],[-74,"#062c78"],[-87,"#062c78"],[-94,"#0c46c4"],[-107,"#0c46c4"],[-114,"#062a74"],[-125,"#05256a"],[-195,"#03174c"],[-235,"#020a28"],[-249.4,"#01051a"]]);
vGrad("iLoadLow", y2, [[-36,"#01020f"],[-50,"#03071f"],[-90,"#040f38"],[-136,"#05205e"],[-143,"#0a46c4"],[-157,"#0a46c4"],[-164,"#05205e"],[-172,"#052268"],[-210,"#031448"],[-249.4,"#02082a"]]);

var tC = loadSteps[0], tD = loadSteps[1], u0 = p2.timeDomain[0], uE = p2.timeDomain[1];

band(t2, x2, y2, tC, tD, iLoadHighTop, -249.4, "url(#iLoadHigh)", true);
band(t2, x2, y2, u0, tC, iLoadLowBeforeTop, -249.4, "url(#iLoadLow)", true);
band(t2, x2, y2, tD, uE, iLoadLowAfterTop, -249.4, "url(#iLoadLow)", true);
band(t2, x2, y2, tC, tD, iLoadHighFloor, -249.4, "#fff", false);
band(t2, x2, y2, u0, uE, vLoadTop, 58, "url(#vLoad)", false);
band(t2, x2, y2, u0, uE, vLoadBot, 58, "url(#vLoad)", false, "#6a6a52");

// centre line of the screen stays white next to the low current traces
[[u0, tC], [tD, uE]].forEach(function(d) {
  s2.over.append("line").attr("x1", x2(d[0])).attr("x2", x2(d[1])).attr("y1", y2(-49.4)).attr("y2", y2(-49.4))
      .attr("stroke", "#f2f2f2").attr("stroke-width", 3.5);
});
// dotted graticule showing through
s2.over.append("line").attr("x1", x2(tC)).attr("x2", x2(tD)).attr("y1", y2(0.6)).attr("y2", y2(0.6))
    .attr("stroke", "#c8d0e0").attr("stroke-width", 3).attr("stroke-dasharray", "3 7");
s2.over.append("line").attr("x1", x2(u0)).attr("x2", x2(6.2)).attr("y1", y2(-199.4)).attr("y2", y2(-199.4))
    .attr("stroke", "#c8d0e0").attr("stroke-width", 3).attr("stroke-dasharray", "3 7");
s2.over.append("line").attr("x1", x2(6.2)).attr("x2", x2(uE)).attr("y1", y2(-199.4)).attr("y2", y2(-199.4))
    .attr("stroke", "#c8d0e0").attr("stroke-width", 3).attr("stroke-dasharray", "3 38");
s2.over.append("line").attr("x1", x2(7.14)).attr("x2", x2(7.54)).attr("y1", y2(-99.4)).attr("y2", y2(-99.4))
    .attr("stroke", "#c8d0e0").attr("stroke-width", 3).attr("stroke-dasharray", "23 20");
peeks(s2, loadGridPeeks, "#b8bfd2");
finishScreen(s2, p2);

redLabel("V", "Load", 232, 2162, 279, 94, 66, 44);
redLabel("I", "Load", 191, 2427, 212, 93, 62, 42);
label(svg, "P = 60W", 141, 2546, 50, 187);
label(svg, "P = 120W", 656, 2553, 50, 214);
label(svg, "P = 60W", 1371, 2540, 50, 188);

var side2 = svg.append("g");
side2.append("rect").attr("x", 93).attr("y", 2432).attr("width", 44).attr("height", 62).attr("rx", 4)
    .attr("fill", "#8a8810").attr("stroke", "#f0f050").attr("stroke-width", 2);
label(side2, "1", 97, 2462, 28, null, "#d8d820", "'Liberation Sans'");
groundMark(side2, 114, 2454, "#e4e430");
label(side2, "T", 119, 2984, 30, null, "#3a78e8", "'Liberation Sans'");
side2.append("path").attr("fill", "#1a64e8").attr("d", d3.line()([[123, 2992], [138, 3003], [123, 3014]]));
label(side2, "3", 94, 3130, 32, null, "#4a80f0", "'Liberation Sans'");
groundMark(side2, 114, 3118, "#4a80f0");

caption(svg, 178, 3404, 1484, [["(V"], ["Load", "small"], [" (ch1): 50 V/div; and I"], ["Load", "small"], [" (ch3): 1 A/div)"]]);
caption(svg, 820, 3544, 350, [["("], ["c", "bold"], [") Mode 3"]]);
</script>
</body>
</html>
